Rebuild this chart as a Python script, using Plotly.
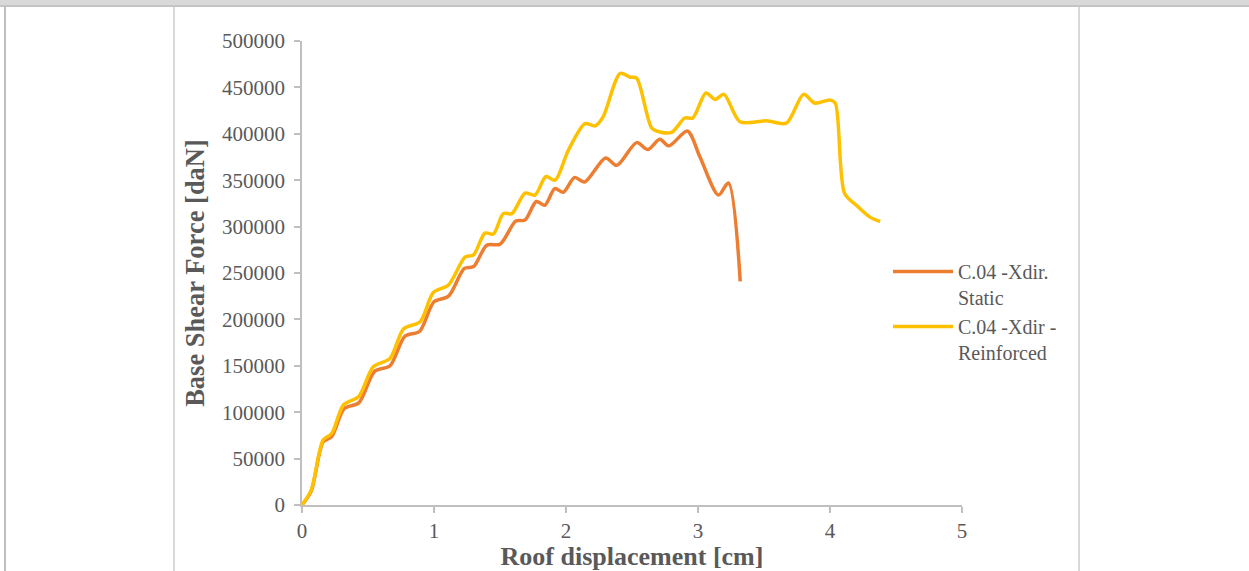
import plotly.graph_objects as go

# ---- data ----
static_x = [0, 0.07, 0.16, 0.225, 0.32, 0.43, 0.55, 0.667, 0.78, 0.89, 1.0, 1.11, 1.23, 1.30,
            1.40, 1.50, 1.62, 1.69, 1.775, 1.84, 1.915, 1.98, 2.065, 2.14, 2.30, 2.385, 2.535,
            2.62, 2.71, 2.78, 2.92, 3.015, 3.155, 3.23, 3.32]
static_y = [0, 15000, 68000, 73600, 104000, 110000, 144000, 150000, 182000, 187000, 219000,
            225000, 255000, 257000, 280000, 281000, 306000, 307000, 327000, 323000, 341000,
            337000, 353000, 348000, 374000, 366000, 390500, 383000, 394000, 387000, 403000,
            375000, 334000, 347000, 241000]

reinf_x = [0, 0.07, 0.16, 0.225, 0.315, 0.43, 0.54, 0.667, 0.77, 0.895, 0.995, 1.11, 1.235,
           1.30, 1.386, 1.45, 1.525, 1.59, 1.69, 1.765, 1.848, 1.917, 2.017, 2.144, 2.22,
           2.28, 2.41, 2.485, 2.535, 2.65, 2.71, 2.80, 2.90, 2.96, 3.06, 3.13, 3.197, 3.318,
           3.52, 3.67, 3.80, 3.886, 4.00, 4.04, 4.11, 4.20, 4.30, 4.38]
reinf_y = [0, 16000, 70000, 77000, 108000, 117000, 149000, 158000, 190000, 197500, 229000,
           237000, 267000, 269500, 293000, 292000, 314000, 314000, 336000, 334000, 354000,
           350000, 382000, 411000, 408500, 418000, 465000, 461000, 460000, 406000, 402000,
           401500, 417000, 417000, 444000, 437000, 442500, 413000, 414000, 411500, 442500,
           433000, 436500, 433000, 336000, 323000, 310500, 305500]

series_names = ["C.04 -Xdir.<br>Static", "C.04 -Xdir -<br>Reinforced"]
series_colors = ["#ED7D31", "#FFC000"]

x_ticks = [0, 1, 2, 3, 4, 5]
y_ticks = list(range(0, 500001, 50000))

FONT = "Liberation Serif, Times New Roman, serif"
GREY = "#595959"
AXIS = "#BFBFBF"

fig = go.Figure()
fig.add_trace(go.Scatter(x=static_x, y=static_y, mode="lines", name=series_names[0],
                         line=dict(color=series_colors[0], width=3.5, shape="spline", smoothing=0.8)))
fig.add_trace(go.Scatter(x=reinf_x, y=reinf_y, mode="lines", name=series_names[1],
                         line=dict(color=series_colors[1], width=3.5, shape="spline", smoothing=0.8)))

W, H = 1249, 571
L, R, T, B = 302, 287, 41, 66
pw = W - L - R
ph = H - T - B

def px_x(p):
    return (p - L) / pw

def px_y(p):
    return 1 - (p - T) / ph

shapes = [
    # top band of the page frame
    dict(type="rect", xref="paper", yref="paper", x0=px_x(-2), x1=px_x(W + 2), y0=px_y(6), y1=px_y(-2),
         fillcolor="#D9D9D9", line=dict(width=0), layer="below"),
    dict(type="line", xref="paper", yref="paper", x0=px_x(-2), x1=px_x(W + 2), y0=px_y(6), y1=px_y(6),
         line=dict(color="#C4C4C4", width=2)),
    # left frame line
    dict(type="line", xref="paper", yref="paper", x0=px_x(5), x1=px_x(5), y0=px_y(6), y1=px_y(H + 2),
         line=dict(color="#BFBFBF", width=2)),
    # chart border lines
    dict(type="line", xref="paper", yref="paper", x0=px_x(174), x1=px_x(174), y0=px_y(7), y1=px_y(H + 2),
         line=dict(color="#D9D9D9", width=2)),
    dict(type="line", xref="paper", yref="paper", x0=px_x(1079), x1=px_x(1079), y0=px_y(7), y1=px_y(H + 2),
         line=dict(color="#D9D9D9", width=2)),
]

fig.update_layout(
    width=W, height=H, autosize=False,
    margin=dict(l=L, r=R, t=T, b=B, pad=0, autoexpand=False),
    paper_bgcolor="white", plot_bgcolor="white",
    font=dict(family=FONT, color=GREY, size=21),
    shapes=shapes,
    showlegend=True,
    legend=dict(x=px_x(888), y=px_y(252), xanchor="left", yanchor="top",
                font=dict(family=FONT, size=20, color=GREY), valign="top",
                itemwidth=60, tracegroupgap=0, bgcolor="rgba(0,0,0,0)"),
    xaxis=dict(range=[0, 5], tickvals=x_ticks, ticktext=[str(v) for v in x_ticks],
               automargin=False,
               showgrid=False, zeroline=False, showline=True, linecolor=AXIS, linewidth=1.5,
               ticks="outside", ticklen=6, tickcolor=AXIS, tickwidth=1.5,
               tickfont=dict(family=FONT, size=21, color=GREY), ticklabelstandoff=0,
               title=dict(text="<b>Roof displacement [cm]</b>", standoff=9,
                          font=dict(family=FONT, size=26, color=GREY))),
    yaxis=dict(range=[0, 500000], tickvals=y_ticks, ticktext=[str(v) for v in y_ticks],
               automargin=False,
               showgrid=False, zeroline=False, showline=True, linecolor=AXIS, linewidth=1.5,
               ticks="outside", ticklen=6, tickcolor=AXIS, tickwidth=1.5,
               tickfont=dict(family=FONT, size=21, color=GREY), ticklabelstandoff=5,
               title=dict(text="<b>Base Shear Force [daN]</b>", standoff=10,
                          font=dict(family=FONT, size=26.5, color=GREY))),
)

fig.write_html("out.html",
               config={"responsive": False, "displayModeBar": False},
               post_script="document.body.style.margin='0';document.body.style.overflow='hidden';")
